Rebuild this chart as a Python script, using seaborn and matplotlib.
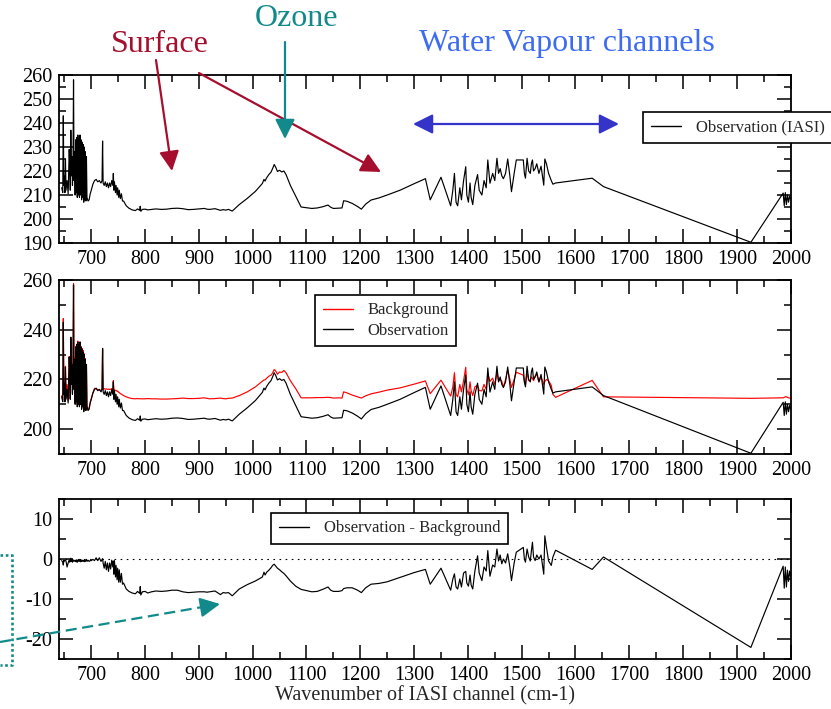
import matplotlib
matplotlib.use("Agg")
import matplotlib.pyplot as plt
from matplotlib.patches import FancyArrowPatch
from matplotlib.lines import Line2D
from matplotlib.ticker import MultipleLocator
import pandas as pd
import seaborn as sns

# IASI channel wavenumbers (cm-1)
wavenumber = [
    645, 647, 648, 649, 650, 651, 652, 653, 655, 657, 659, 660, 661, 662, 663, 664,
    665, 666, 667, 668, 669, 670, 671, 672, 673, 674, 675, 676, 677, 678, 679, 680,
    681, 682, 683, 684, 685, 686, 687, 688, 689, 690, 691, 692, 694, 696, 698, 700,
    703, 706, 709, 712, 715, 718, 720, 721, 722, 724, 726, 728, 730, 732, 734, 736,
    738, 740, 741, 742, 743, 745, 746, 748, 749, 751, 752, 754, 756, 758, 760, 765,
    770, 776, 782, 786, 790, 791, 792, 795, 800,
    805, 812, 820, 830, 840, 850, 860, 870, 880, 890, 900, 910, 915, 920, 930, 940,
    945, 950, 955, 962,
    975, 990, 1005, 1018, 1021, 1023, 1026, 1030, 1034, 1037, 1040, 1043, 1046, 1050,
    1054, 1058, 1062, 1070, 1080, 1090, 1100, 1110, 1120, 1130, 1140, 1145, 1150, 1160,
    1166, 1169, 1175, 1185, 1195, 1202, 1210, 1220, 1235, 1250, 1274, 1300, 1321,
    1330, 1350, 1368, 1372, 1375, 1378, 1381, 1385, 1388, 1392, 1396, 1398, 1401, 1404,
    1406, 1409, 1413, 1418, 1421, 1426, 1430, 1434, 1437, 1441, 1446, 1450, 1454, 1457,
    1460, 1463, 1466, 1470, 1474, 1478, 1481, 1486, 1490, 1503, 1505, 1507, 1510, 1513,
    1516, 1518, 1520, 1522, 1525, 1528, 1532, 1536, 1541, 1543, 1546, 1550, 1555, 1558,
    1563, 1631, 1652, 1926, 1986, 1988, 1990, 1992, 1994, 1996, 1998, 2000,
]

# Observed brightness temperature (K)
obs_bt = [
    213, 211, 243, 214, 218, 211, 225, 212, 216, 210.5, 229, 222, 212, 237, 218, 226,
    214, 222, 258, 216, 228, 210, 233, 211, 234, 209, 235, 210, 234, 209, 235, 210,
    233, 208, 232, 209, 231, 207, 230, 208, 228, 207.5, 226, 209, 207.5, 208, 210.5, 212,
    214.5, 216, 216.5, 215.5, 216, 215, 216, 232.5, 215, 214, 215.5, 213.5, 215, 213, 215, 213.5,
    216, 214, 219, 212, 215.5, 211, 214, 210, 213, 209, 212, 208.5, 210.5, 207.5, 207.5, 205.5,
    204.5, 203.8, 203.5, 204.2, 203.6, 205.3, 203.2, 204, 204.1,
    203.8, 204.0, 204.2, 204.0, 204.1, 204.4, 204.5, 204.3, 203.9, 204.0, 204.2, 204.4, 204.1, 204.0, 204.3, 203.6,
    203.9, 203.7, 204.0, 203.3,
    206, 208.6, 211.5, 214.8, 216.5, 215.8, 217.2, 218.5, 219.5, 221, 222.7, 221.5, 219.8, 220.3,
    219.6, 220, 218.5, 214, 209.5, 205, 204.7, 204.4, 204.6, 205.1, 205.8, 204.9, 204.4, 204.5,
    204.6, 207.6, 207.4, 206.5, 205.2, 204.1, 206.2, 207.9, 208.8, 210, 212, 214.7, 216.8,
    208, 217.4, 205.5, 212, 219, 207, 205.5, 213, 208, 216, 221.8, 210, 207, 215,
    209, 206, 214, 218.5, 212, 210, 216, 213, 224.6, 214.9, 219, 216, 225.3, 219,
    221, 218, 216.8, 219, 225, 218, 211.4, 219, 224.6, 224.6, 219, 217, 225.3, 220,
    219, 223, 224.6, 220, 221, 223, 219, 222, 214.1, 225, 223, 219, 216, 214.5,
    215, 217, 213.5, 190.3, 210.8, 205.5, 211, 206, 210, 207, 209.5, 208,
]

# Background (model first guess) brightness temperature (K)
bkg_bt = [
    213.4, 211.8, 244.5, 214.3, 218.5, 211.4, 225.3, 212.5, 218, 211.5, 229.2, 222.8, 212.3, 236.8, 218.6, 226.2,
    214.8, 222.4, 258.5, 216.3, 228.5, 210.6, 233.3, 211.7, 234.2, 209.8, 235.4, 210.3, 234.6, 209.5, 235.1, 210.7,
    233.2, 208.6, 232.5, 209.3, 231.6, 207.4, 230.3, 208.7, 228.4, 207.9, 226.1, 209.6, 207.8, 208.6, 210.9, 212.4,
    214.6, 216.4, 216.2, 215.9, 215.7, 215.6, 216.1, 232.4, 216.0, 216.3, 216.1, 216.2, 216.0, 216.1, 216.0, 216.0,
    216.3, 216.0, 219.5, 215.8, 215.9, 215.5, 215.6, 215.2, 215.3, 214.8, 214.7, 214.3, 214.1, 213.8, 213.5, 213.0,
    212.6, 212.3, 212.2, 212.3, 212.2, 212.2, 212.2, 212.2, 212.2,
    212.3, 212.2, 212.2, 212.1, 212.1, 212.2, 212.3, 212.5, 212.3, 212.3, 212.4, 212.6, 212.4, 212.2, 212.3, 212.5,
    212.3, 212.2, 212.4, 212.5,
    213.5, 215, 217, 219.3, 219.8, 219.8, 220.5, 221.3, 221.7, 222.6, 224.0, 223.3, 222.1, 223.0,
    222.8, 223.6, 222.7, 219.5, 216.3, 212.6, 212.6, 212.6, 212.7, 212.7, 212.8, 212.7, 212.5, 212.6,
    212.5, 215, 214.6, 213.7, 213, 212.5, 213.4, 214.2, 214.9, 215.7, 216.6, 218.1, 219.4,
    214.3, 219.7, 213.3, 217, 222.7, 214, 213, 218, 215, 219.5, 224.9, 216, 213.8, 219,
    215.5, 213.5, 217, 217.7, 215.5, 215.4, 218, 216, 222.5, 219.2, 220.5, 218, 222.8, 219.5,
    220, 219.2, 216.8, 220, 223.7, 220, 216.8, 220, 222.9, 221.7, 219, 217.8, 222.8, 219.5,
    219.5, 221, 220.4, 219.5, 221.4, 222, 219, 221, 217.9, 219.2, 220, 219.5, 217.6, 214,
    212.8, 219.6, 213, 212.4, 212.6, 212.8, 213, 213, 212.8, 212.6, 212.5, 212.5,
]

x_ticks = list(range(700, 2001, 100))

df = pd.DataFrame({"wavenumber": wavenumber, "obs": obs_bt, "bkg": bkg_bt})
df["omb"] = df["obs"] - df["bkg"]

sns.set_style("ticks")
plt.rcParams["font.family"] = ["Liberation Serif", "DejaVu Serif"]
plt.rcParams["axes.unicode_minus"] = False

W, H = 831, 709
fig = plt.figure(figsize=(W / 100, H / 100), dpi=100)


def fpos(x, y):
    """Pixel position (from top-left) to figure fraction."""
    return (x / W, 1 - y / H)


def panel(top, bottom):
    left, right = 59, 790.7
    return fig.add_axes([left / W, 1 - bottom / H, (right - left) / W, (bottom - top) / H])


ax1 = panel(75, 243)
ax2 = panel(280, 454)
ax3 = panel(499, 659)

line_kw = dict(sort=False, estimator=None, linewidth=0.85)

sns.lineplot(data=df, x="wavenumber", y="obs", ax=ax1, color="black",
             label="Observation (IASI)", **line_kw)
sns.lineplot(data=df, x="wavenumber", y="bkg", ax=ax2, color="#ff0000",
             label="Background", **line_kw)
sns.lineplot(data=df, x="wavenumber", y="obs", ax=ax2, color="black",
             label="Observation", **line_kw)
ax3.axhline(0, color="black", linestyle=(0, (1.5, 4)), linewidth=0.8)
sns.lineplot(data=df, x="wavenumber", y="omb", ax=ax3, color="black",
             label="Observation - Background", **line_kw)

settings = [
    (ax1, (190, 260), 10, 5),
    (ax2, (190, 260), 20, 10),
    (ax3, (-25, 15), 10, 5),
]
for ax, ylim, ymaj, ymin in settings:
    ax.set_xlim(640, 2000)
    ax.set_ylim(*ylim)
    ax.set_xticks(x_ticks)
    ax.xaxis.set_minor_locator(MultipleLocator(50))
    ax.yaxis.set_major_locator(MultipleLocator(ymaj))
    ax.yaxis.set_minor_locator(MultipleLocator(ymin))
    ax.set_xlabel("")
    ax.set_ylabel("")
    ax.tick_params(which="both", direction="in", top=True, right=True,
                   width=1.1, colors="black", labelsize=14.5)
    ax.tick_params(which="major", length=10, pad=5)
    ax.tick_params(which="minor", length=5)
    for s in ax.spines.values():
        s.set_linewidth(1.3)
        s.set_color("black")
        s.set_visible(True)

ax2.set_ylim(190, 260)
ax2.set_yticks([200, 220, 240, 260])

leg_kw = dict(loc="upper left", bbox_transform=fig.transFigure, frameon=True,
              fancybox=False, edgecolor="black", framealpha=1, borderaxespad=0,
              fontsize=12, handlelength=1.8, handletextpad=0.9, borderpad=0.45)
for ax, (lx, ly), spacing in [
    (ax1, (643, 112), 0.3),
    (ax2, (315, 295), 0.25),
    (ax3, (271, 513), 0.3),
]:
    leg = ax.legend(bbox_to_anchor=fpos(lx, ly), labelspacing=spacing, **leg_kw)
    leg.get_frame().set_linewidth(1.2)
    for h in leg.get_lines():
        h.set_linewidth(1.0)

fig.text(*fpos(425, 696), "Wavenumber of IASI channel (cm-1)", ha="center",
         va="center", fontsize=14.5)

# Band annotations
red = "#a50f2d"
teal = "#12898a"
blue_txt = "#3d6bf2"
blue_arrow = "#3434c8"

fig.text(*fpos(160, 45), "Surface", color=red, fontsize=23, ha="center", va="center")
fig.text(*fpos(297, 18), "Ozone", color=teal, fontsize=23, ha="center", va="center")
fig.text(*fpos(567, 44), "Water Vapour channels", color=blue_txt, fontsize=23,
         ha="center", va="center")


def arrow(p0, p1, color, style="-|>", lw=1.6, ls="-"):
    a = FancyArrowPatch(fpos(*p0), fpos(*p1), transform=fig.transFigure,
                        arrowstyle=f"{style},head_length=0.8,head_width=0.4",
                        mutation_scale=15, color=color, linewidth=lw,
                        linestyle=ls, shrinkA=0, shrinkB=0, zorder=10)
    fig.add_artist(a)


arrow((156, 60), (172, 171), red)
arrow((199, 73), (381, 172), red)
arrow((285, 42), (285, 139), teal)
arrow((413, 124), (619, 124), blue_arrow, style="<|-|>")

# dashed pointer into the departure panel
x0, y0, x1, y1 = 0, 642, 220, 604
fig.add_artist(Line2D([x0 / W, (x1 - 14) / W], [1 - y0 / H, 1 - (y1 + 2.4) / H],
                      transform=fig.transFigure, color=teal, linewidth=1.6,
                      linestyle=(0, (5, 2.5)), zorder=10))
arrow((x1 - 16, y1 + 2.8), (x1, y1), teal)

# dotted bracket at the left margin
bx = [0, 12, 12, 0]
by = [555, 555, 665, 665]
fig.add_artist(Line2D([v / W for v in bx], [1 - v / H for v in by],
                      transform=fig.transFigure, color=teal, linewidth=1.9,
                      linestyle=(0, (1, 1))))

fig.savefig("out.png", dpi=100)
